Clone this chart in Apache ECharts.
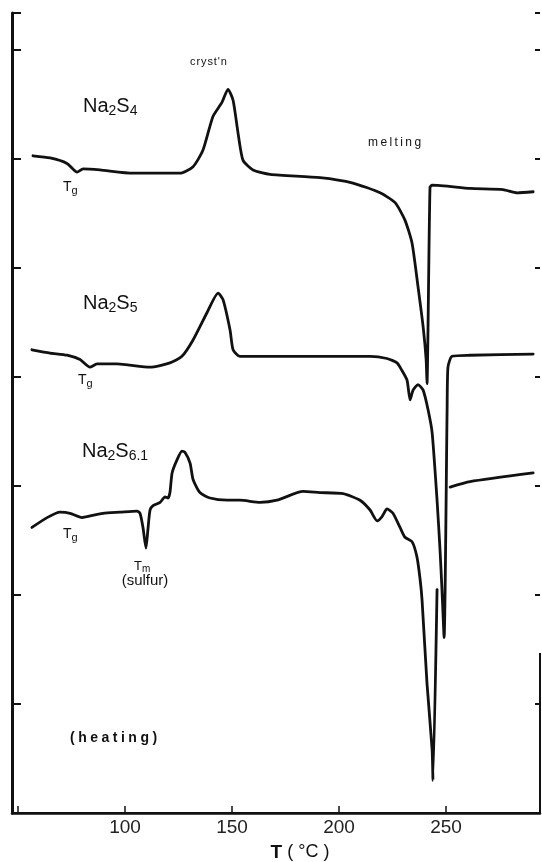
<!DOCTYPE html>
<html>
<head>
<meta charset="utf-8">
<script src="https://cdn.jsdelivr.net/npm/echarts@6/dist/echarts.min.js"></script>
<style>
  html, body { margin: 0; padding: 0; background: #fff; }
  #chart { width: 542px; height: 862px; }
</style>
</head>
<body>
<div id="chart"></div>
<script>
// DSC heating traces of sodium polysulfide glasses (offset vertically, arbitrary units)
const xTickValues = [50, 100, 150, 200, 250];
const xLabelValues = [100, 150, 200, 250];

// Na2S4
const tNa2S4 = [57.0, 65.0, 72.9, 77.6, 80.4, 88.3, 103.7, 125.7, 131.8, 136.4, 141.1, 145.3, 148.1, 150.5,
  152.8, 155.1, 159.8, 167.8, 191.1, 206.5, 219.2, 226.2, 230.8, 234.1, 236.9, 239.3, 240.7, 241.1,
  242.5, 243.5, 261.2, 276.6, 283.2, 290.7];
const qNa2S4 = [6.03, 6.01, 5.96, 5.88, 5.91, 5.90, 5.87, 5.87, 5.93, 6.08, 6.39, 6.52, 6.64, 6.54,
  6.24, 5.99, 5.90, 5.86, 5.83, 5.78, 5.69, 5.60, 5.44, 5.23, 4.83, 4.46, 4.16, 3.94,
  5.74, 5.76, 5.73, 5.72, 5.69, 5.70];

// Na2S5
const tNa2S5 = [56.5, 65.0, 72.9, 79.0, 83.6, 86.9, 96.3, 111.7, 121.0, 126.6, 131.8, 138.3, 143.5, 145.8,
  149.1, 150.5, 153.7, 172.4, 214.5, 222.4, 227.1, 229.4, 231.8, 233.2, 234.6, 236.9, 239.3, 241.6,
  243.5, 245.8, 247.2, 248.1, 249.1, 250.5, 250.9, 252.8, 261.2, 290.7];
const qNa2S5 = [4.25, 4.22, 4.20, 4.16, 4.09, 4.12, 4.12, 4.09, 4.13, 4.19, 4.34, 4.59, 4.77, 4.71,
  4.43, 4.25, 4.19, 4.19, 4.19, 4.17, 4.13, 4.06, 3.97, 3.79, 3.88, 3.93, 3.88, 3.70,
  3.49, 2.87, 2.41, 2.05, 1.61, 3.70, 4.09, 4.19, 4.20, 4.21];

// Na2S6.1 (pen lifted between the melting return and the liquid baseline)
const tNa2S61 = [56.5, 63.6, 69.6, 74.3, 79.9, 82.2, 89.7, 97.7, 105.6, 107.0, 108.4, 109.8, 110.7, 111.7,
  113.1, 116.4, 118.7, 120.1, 121.0, 122.0, 124.3, 126.6, 128.0, 130.4, 131.8, 135.0, 139.7, 147.7,
  153.7, 163.1, 171.0, 183.2, 191.1, 201.9, 209.8, 214.5, 217.8, 220.1, 222.4, 225.2, 228.5, 230.8,
  234.1, 236.4, 237.9, 238.8, 241.1, 243.5, 243.9, 245.8, 248.0, 251.9, 261.2, 290.7];
const qNa2S61 = [2.62, 2.71, 2.76, 2.75, 2.71, 2.72, 2.75, 2.76, 2.77, 2.75, 2.62, 2.43, 2.60, 2.78,
  2.82, 2.85, 2.90, 2.89, 2.94, 3.12, 3.24, 3.32, 3.31, 3.21, 3.06, 2.94, 2.89, 2.87,
  2.87, 2.85, 2.87, 2.95, 2.94, 2.93, 2.87, 2.78, 2.68, 2.72, 2.79, 2.75, 2.62, 2.53,
  2.49, 2.35, 2.14, 1.95, 1.19, 0.58, 0.30, 2.05, null, 2.99, 3.04, 3.12];

const pairs = (xs, ys) => xs.map((x, i) => [x, ys[i]]);

const ink = '#111';
const family = '"Liberation Sans", Arial, Helvetica, sans-serif';

function formula(left, cy, text, big, small) {
  return {
    type: 'text', x: left, y: cy, silent: true,
    style: {
      text: text, verticalAlign: 'middle', fill: ink,
      rich: {
        n: { fontSize: big, lineHeight: big + 4, fontFamily: family, fill: ink },
        s: { fontSize: small, lineHeight: small, verticalAlign: 'bottom', fontFamily: family, fill: ink }
      }
    }
  };
}
function plain(x, cy, text, size, weight, align) {
  return {
    type: 'text', x: x, y: cy, silent: true,
    style: { text: text, fontSize: size, fontWeight: weight || 'normal', fontFamily: family,
      fill: ink, verticalAlign: 'middle', align: align || 'left' }
  };
}

const traceStyle = { color: ink, width: 2.8, join: 'round', cap: 'round' };
function trace(name, data) {
  return {
    name: name, type: 'line', data: data, symbol: 'none',
    smooth: 0.2, connectNulls: false,
    lineStyle: traceStyle, itemStyle: { color: ink }, animation: false
  };
}

const chart = echarts.init(document.getElementById('chart'), null, { renderer: 'canvas' });
chart.setOption({
  backgroundColor: '#fff',
  animation: false,
  grid: { left: 12, right: 2, top: 13, bottom: 49, containLabel: false, outerBoundsMode: 'none' },
  xAxis: [{
    type: 'value', min: 47.2, max: 293.9, position: 'bottom',
    axisLine: { lineStyle: { color: ink, width: 2.5 } },
    axisTick: { inside: true, length: 7, customValues: xTickValues, lineStyle: { color: ink, width: 1.5 } },
    axisLabel: { customValues: xLabelValues, fontSize: 19, color: '#222', margin: 5, fontFamily: family },
    splitLine: { show: false },
    name: '{b|T} ( °C )', nameLocation: 'middle', nameGap: 30,
    nameTextStyle: {
      fontSize: 18, color: ink, fontFamily: family, padding: [0, 0, 0, 48],
      rich: { b: { fontSize: 19, fontWeight: 'bold', fontFamily: family, color: ink } }
    }
  }, {
    type: 'value', min: 47.2, max: 293.9, position: 'top',
    axisLine: { lineStyle: { color: ink, width: 2 } },
    axisTick: { show: false }, axisLabel: { show: false }, splitLine: { show: false }
  }],
  yAxis: [{
    type: 'value', min: 0, max: 7.34, interval: 1, position: 'left',
    axisLine: { show: true, lineStyle: { color: ink, width: 3 } },
    axisTick: { inside: true, length: 9, lineStyle: { color: ink, width: 2 } },
    axisLabel: { show: false }, splitLine: { show: false }
  }, {
    type: 'value', min: 0, max: 7.34, interval: 1, position: 'right',
    axisLine: { show: false },
    axisTick: { show: true, inside: true, length: 5, lineStyle: { color: ink, width: 2 } },
    axisLabel: { show: false }, splitLine: { show: false }
  }],
  series: [
    trace('Na2S4', pairs(tNa2S4, qNa2S4)),
    trace('Na2S5', pairs(tNa2S5, qNa2S5)),
    trace('Na2S6.1', pairs(tNa2S61, qNa2S61))
  ],
  graphic: [
    // lower part of the right frame edge
    { type: 'line', silent: true, shape: { x1: 540, y1: 653, x2: 540, y2: 813 },
      style: { stroke: ink, lineWidth: 2 } },
    plain(190, 62, 'c\u200ar\u200ay\u200as\u200at\u200a\'\u200an', 11),
    plain(368, 143, 'm\u2009e\u2009l\u2009t\u2009i\u2009n\u2009g', 12),
    formula(83, 106, '{n|Na}{s|2}{n|S}{s|4}', 20, 14),
    formula(63, 187, '{n|T}{s|g}', 14, 11),
    formula(83, 303, '{n|Na}{s|2}{n|S}{s|5}', 20, 14),
    formula(78, 380, '{n|T}{s|g}', 14, 11),
    formula(82, 451, '{n|Na}{s|2}{n|S}{s|6.1}', 20, 14),
    formula(63, 534, '{n|T}{s|g}', 14, 11),
    formula(134, 566, '{n|T}{s|m}', 13, 10),
    plain(145, 581, '(sulfur)', 15, 'normal', 'center'),
    plain(70, 738, '(\u2005h\u2005e\u2005a\u2005t\u2005i\u2005n\u2005g\u2005)', 14, 'bold')
  ]
});
</script>
</body>
</html>
